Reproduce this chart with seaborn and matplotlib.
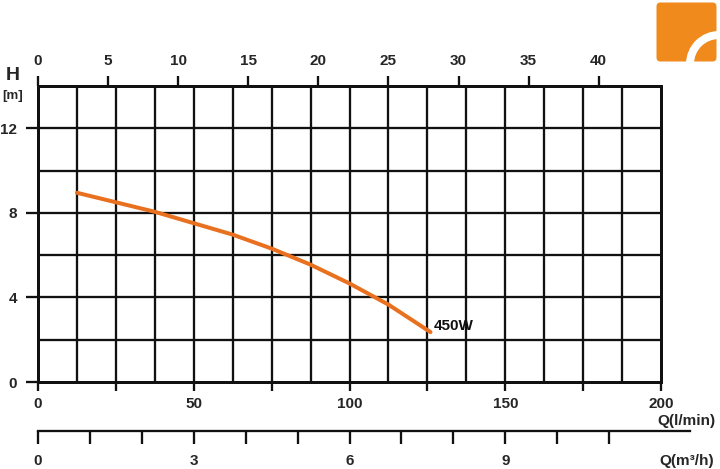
import numpy as np
import pandas as pd
import matplotlib
matplotlib.use("Agg")
import matplotlib.pyplot as plt
import seaborn as sns
from matplotlib.patches import FancyBboxPatch, Wedge

# ---- data ----
flow_lpm = [12.5, 25, 37.5, 50, 62.5, 75, 87.5, 100, 112.5, 126]
head_m = [8.95, 8.5, 8.05, 7.51, 6.97, 6.31, 5.55, 4.66, 3.66, 2.36]
curve_label = "450W"
x_ticks_lpm = [0, 50, 100, 150, 200]
y_ticks = [0, 4, 8, 12]
top_ticks_gpm = [0, 5, 10, 15, 20, 25, 30, 35, 40]
m3h_ticks = list(range(0, 12))
m3h_labels = [0, 3, 6, 9]
LPM_PER_GAL = 4.5

sns.set_style("white")
plt.rcParams["font.family"] = ["Liberation Sans", "DejaVu Sans"]
plt.rcParams["font.weight"] = "bold"

W, H = 720, 469
fig = plt.figure(figsize=(W / 100, H / 100), dpi=100)

def fx(px):
    return px / W

def fy(py):
    return 1 - py / H

def pt(px):
    return px * 0.72

L, R, T, B = 38, 661, 86, 382
ax = fig.add_axes([fx(L), fy(B), fx(R) - fx(L), fy(T) - fy(B)])

df = pd.DataFrame({"flow": flow_lpm, "head": head_m})
sns.lineplot(data=df, x="flow", y="head", ax=ax, color="#E8701E", linewidth=pt(4),
             zorder=5)
ax.set_xlabel("")
ax.set_ylabel("")
ax.set_xlim(0, 200)
ax.set_ylim(0, 14)

# grid lines every 12.5 l/min and every 2 m
for gx in np.arange(12.5, 200, 12.5):
    ax.axvline(gx, color="#111111", linewidth=pt(2.3), zorder=1)
for gy in np.arange(2, 14, 2):
    ax.axhline(gy, color="#111111", linewidth=pt(2.3), zorder=1)
ax.grid(False)

xt = np.arange(0, 200.1, 25)
ax.set_xticks(xt)
ax.set_xticklabels([str(int(v)) if v in x_ticks_lpm else "" for v in xt])
ax.set_yticks(y_ticks)
ax.set_yticklabels([str(v) for v in y_ticks])
ax.tick_params(axis="x", which="major", direction="out", length=pt(9), width=pt(2.3),
               color="#111111", labelsize=11, pad=pt(6), bottom=True)
ax.tick_params(axis="y", which="major", direction="out", length=pt(12), width=pt(2.3),
               color="#111111", labelsize=11, pad=pt(9), left=True)
for lab in ax.get_xticklabels() + ax.get_yticklabels():
    lab.set_fontweight("bold")
for sp in ax.spines.values():
    sp.set_visible(True)
    sp.set_color("#111111")
    sp.set_linewidth(pt(3))

# top axis (gallons/min)
sec = ax.secondary_xaxis("top", functions=(lambda x: x / LPM_PER_GAL, lambda x: x * LPM_PER_GAL))
sec.set_xticks(top_ticks_gpm)
sec.set_xticklabels([str(v) for v in top_ticks_gpm])
sec.tick_params(direction="out", length=pt(10), width=pt(2.3), color="#111111",
                labelsize=11, pad=pt(8), top=True)
sec.spines["top"].set_linewidth(pt(3))
sec.spines["top"].set_color("#111111")
for lab in sec.get_xticklabels():
    lab.set_fontweight("bold")

# curve label
ax.text(flow_lpm[-1] + 1.2, head_m[-1] + 0.3, curve_label, fontsize=11,
        fontweight="bold", ha="left", va="center", color="#111111")

# second bottom axis (m3/h)
ax2 = fig.add_axes([fx(L), fy(431), fx(690) - fx(L), 0.0005])
ax2.set_xlim(0, (690 - L) / ((R - L) / 12))
ax2.set_ylim(0, 1)
for s in ["top", "left", "right"]:
    ax2.spines[s].set_visible(False)
ax2.spines["bottom"].set_visible(True)
ax2.spines["bottom"].set_linewidth(pt(2.3))
ax2.spines["bottom"].set_color("#111111")
ax2.set_yticks([])
ax2.set_xticks(m3h_ticks)
ax2.set_xticklabels([str(v) if v in m3h_labels else "" for v in m3h_ticks])
ax2.tick_params(axis="x", direction="out", length=pt(13), width=pt(2.3), color="#111111",
                labelsize=11, pad=pt(10), bottom=True, top=False)
for lab in ax2.get_xticklabels():
    lab.set_fontweight("bold")
ax2.patch.set_visible(False)

# axis titles
fig.text(fx(13), fy(75), "H", fontsize=14, fontweight="bold", ha="center", va="center")
fig.text(fx(13), fy(96), "[m]", fontsize=9.5, fontweight="bold", ha="center", va="center")
fig.text(fx(716), fy(421), "Q(l/min)", fontsize=11, fontweight="bold", ha="right", va="center")
fig.text(fx(714), fy(461), "Q(m³/h)", fontsize=11, fontweight="bold", ha="right", va="center")

# logo
lax = fig.add_axes([fx(656), fy(62), fx(717) - fx(656), fy(2) - fy(62)])
lax.set_xlim(0, 61)
lax.set_ylim(0, 60)
lax.axis("off")
lax.add_patch(FancyBboxPatch((0.5, 0.5), 60, 59, boxstyle="round,pad=0,rounding_size=4",
                             facecolor="#F08A1C", edgecolor="none"))
lax.add_patch(Wedge((63, -2), 33, 90, 180, width=8, facecolor="white", edgecolor="none"))

fig.savefig("out.png", dpi=100)
